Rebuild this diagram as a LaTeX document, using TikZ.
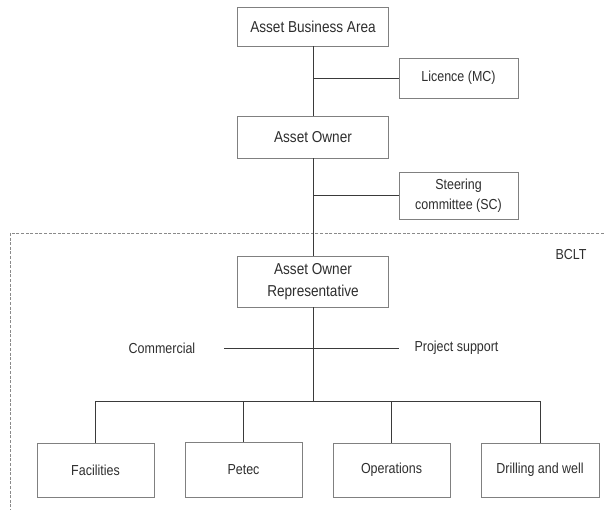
\documentclass[tikz,border=0pt]{standalone}
\usepackage{fontspec}
\setmainfont[FakeStretch=0.86]{Liberation Sans}
\definecolor{boxgray}{HTML}{808080}
\definecolor{linegray}{HTML}{3A3A3A}
\definecolor{txt}{HTML}{2E2E2E}
\definecolor{dashgray}{HTML}{8A8A8A}
\begin{document}
\begin{tikzpicture}[x=1pt,y=-1pt,
  small/.style={font=\fontsize{14.5}{20}\selectfont},
  large/.style={font=\fontsize{15.8}{21.5}\selectfont},
  box/.style={draw=boxgray, line width=0.8pt, fill=white, text=txt,
    inner sep=0pt, align=center, small},
  label/.style={text=txt, inner sep=0pt, small},
  link/.style={draw=linegray, line width=0.9pt},
  region/.style={draw=dashgray, line width=0.7pt, dash pattern=on 3pt off 1.6pt}]
\useasboundingbox (0,0) rectangle (604,510);
\begin{scope}
\clip (0,0) rectangle (604,510);
% BCLT region frame (continues past the right and bottom edges)
\draw[region] (10,233) rectangle (630,540);
\end{scope}

% upper chain
\node[box, large, minimum width=151pt, minimum height=39pt] (aba) at (313,26.5) {Asset Business Area};
\node[box, minimum width=119pt, minimum height=40pt] (lic) at (458.5,78) {Licence (MC)};
\node[box, large, minimum width=151pt, minimum height=42pt] (ao) at (313,137) {Asset Owner};
\node[box, minimum width=119pt, minimum height=47pt] (sc) at (458.5,195.5) {Steering\\committee (SC)};
\node[box, large, minimum width=151pt, minimum height=51pt] (aor) at (313,281.5) {Asset Owner\\Representative};

\node[label] (bclt) at (571,255) {BCLT};

% staff functions
\node[label] (com) at (162,348) {Commercial};
\node[label] (ps) at (456.5,348) {Project support};
\coordinate (comend) at ([xshift=29pt]com.east);
\coordinate (psend) at ([xshift=-15pt]ps.west);

% departments
\node[box, minimum width=117pt, minimum height=54pt] (fac) at (95.5,470) {Facilities};
\node[box, minimum width=117pt, minimum height=55pt] (pet) at (243.5,469.5) {Petec};
\node[box, minimum width=117pt, minimum height=54pt] (ops) at (391.5,470) {Operations};
\node[box, minimum width=118pt, minimum height=54pt] (drl) at (540,470) {Drilling and well};

\coordinate (bus) at (313,401);

% connectors
\draw[link] (aba.south) -- (ao.north);
\draw[link] (aba.south |- lic.west) -- (lic.west);
\draw[link] (ao.south) -- (aor.north);
\draw[link] (ao.south |- sc.west) -- (sc.west);
\draw[link] (aor.south) -- (bus);
\draw[link] (comend) -- (psend);
\draw[link] (fac.north) |- (drl.north |- bus) -- (drl.north);
\draw[link] (pet.north) -- (pet.north |- bus);
\draw[link] (ops.north) -- (ops.north |- bus);
\end{tikzpicture}
\end{document}
